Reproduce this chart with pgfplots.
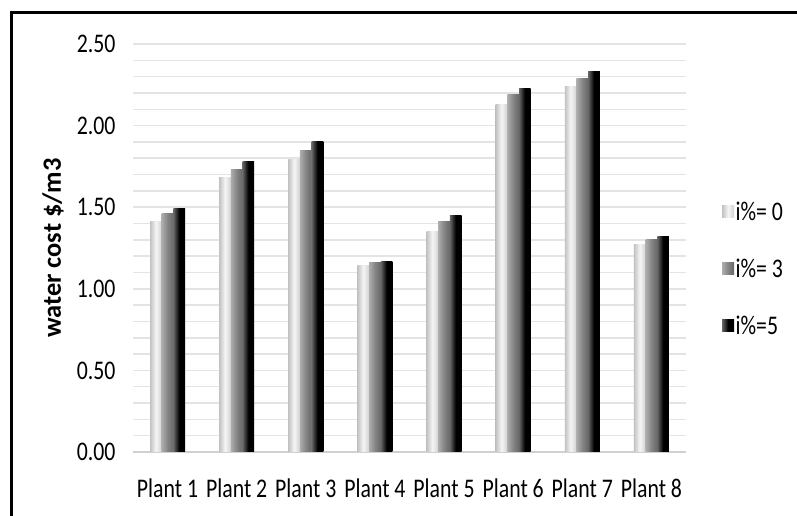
\documentclass[border=0pt]{standalone}
\usepackage{pgfplots}
\usepackage{pgfplotstable}
\pgfplotsset{compat=1.18}
\usepackage{fontspec}
\setmainfont[FakeStretch=0.81]{Carlito}
\newfontfamily\labelfont{Carlito}

\definecolor{gridgray}{HTML}{E4E4E4}
\definecolor{baseaxis}{HTML}{D0D0D0}

% water cost per plant for three interest rates
\pgfplotstableread{
x   a     b     c
0   1.41  1.46  1.49
1   1.68  1.73  1.78
2   1.79  1.85  1.90
3   1.14  1.16  1.17
4   1.35  1.41  1.45
5   2.13  2.19  2.23
6   2.24  2.29  2.33
7   1.27  1.30  1.32
}\costdata

% cylinder-like bar fills
\tikzset{
  barlight/.style={draw=none, left color=black!24, right color=black!18, middle color=black!4},
  barmid/.style={draw=none, left color=black!32, right color=black!60, middle color=black!48},
  bardark/.style={draw=none, left color=black!60, right color=black, middle color=black},
}

\begin{document}
\begin{tikzpicture}
\useasboundingbox (-133bp,-64bp) rectangle (664bp,452bp);
% frame
\draw[line width=3bp, line cap=rect] (-121bp,-70bp) -- (-121bp,439bp) -- (680bp,439bp);
\begin{axis}[
  at={(0,0)}, anchor=south west,
  scale only axis,
  width=553bp, height=408bp,
  ybar=0pt, bar width=11.7bp,
  xmin=-0.5, xmax=7.5,
  ymin=0, ymax=2.5,
  xtick={0,...,7},
  xticklabels={Plant 1,Plant 2,Plant 3,Plant 4,Plant 5,Plant 6,Plant 7,Plant 8},
  ytick={0,0.5,1,1.5,2,2.5},
  minor y tick num=4,
  ymajorgrids, yminorgrids,
  major grid style={gridgray, line width=1.5bp},
  minor grid style={gridgray, line width=1.5bp},
  major tick length=0pt, minor tick length=0pt,
  axis x line*=bottom,
  axis y line*=left,
  x axis line style={baseaxis, line width=2.5bp, -},
  y axis line style={draw=none},
  tick label style={font=\fontsize{27}{31}\selectfont},
  /pgf/number format/assume math mode=true,
  yticklabel style={anchor=east, xshift=-14bp,
    /pgf/number format/fixed, /pgf/number format/fixed zerofill, /pgf/number format/precision=2},
  xticklabel style={anchor=base, yshift=-45bp},
  ylabel={water cost \$/m3},
  every axis y label/.style={at={(axis description cs:-0.1447,0.5)}, rotate=90, anchor=center, font=\labelfont\bfseries\fontsize{26.5}{30}\selectfont},
  legend style={at={(axis description cs:1.065,0.449)}, anchor=west, draw=none, fill=none,
    font=\fontsize{27}{31}\selectfont, row sep=34bp, inner sep=0pt,
    nodes={inner sep=1.5bp}},
  legend cell align=left,
  legend image code/.code={\fill[#1] (0bp,-6bp) rectangle (12bp,6bp);},
]
\addlegendimage{barlight}
\addlegendimage{barmid}
\addlegendimage{bardark}
% each bar is its own path so that its shading spans only that bar
\pgfplotsinvokeforeach{0,...,7}{
  \addplot[barlight, bar shift=-11.7bp, forget plot, x filter/.expression={abs(x-#1)<0.2 ? x : nan}] table[x=x, y=a] {\costdata};
  \addplot[barmid, bar shift=0bp, forget plot, x filter/.expression={abs(x-#1)<0.2 ? x : nan}] table[x=x, y=b] {\costdata};
  \addplot[bardark, bar shift=11.7bp, forget plot, x filter/.expression={abs(x-#1)<0.2 ? x : nan}] table[x=x, y=c] {\costdata};
}
\legend{i\%= 0, i\%= 3, i\%=5}
\end{axis}
\end{tikzpicture}
\end{document}
